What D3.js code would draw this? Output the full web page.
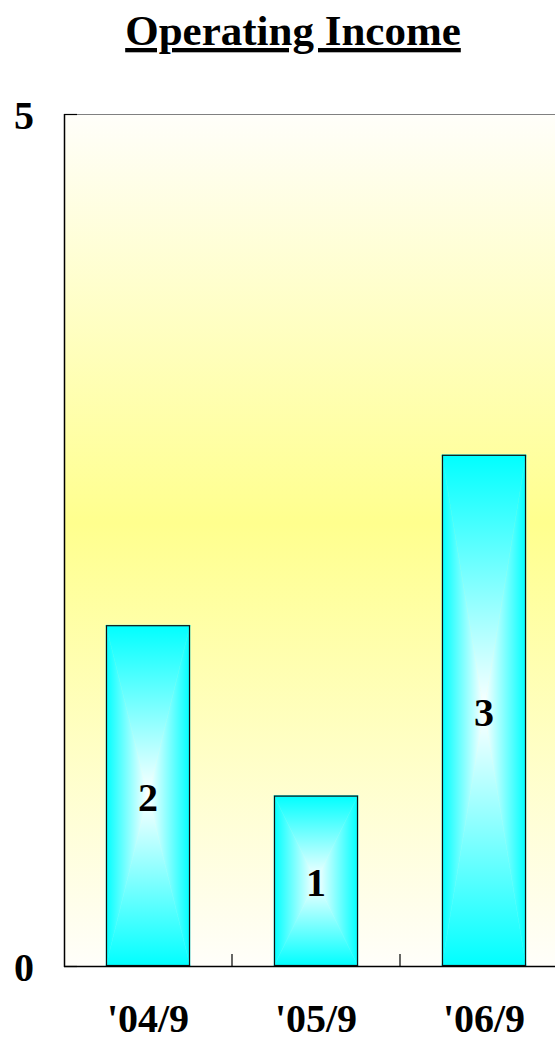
<!DOCTYPE html>
<html>
<head>
<meta charset="utf-8">
<script src="https://cdn.jsdelivr.net/npm/d3@7"></script>
<style>
  html, body { margin: 0; padding: 0; background: #fff; }
  svg { display: block; }
  text { font-family: "Liberation Serif", "Times New Roman", serif; font-weight: bold; fill: #000; }
</style>
</head>
<body>
<script>
// Operating income by period
const categories = ["'04/9", "'05/9", "'06/9"];
const values = [2, 1, 3];
const yTickValues = [0, 5];

const W = 555, H = 1041;
const plot = { left: 64, top: 114, right: 568, bottom: 966 };

const svg = d3.select("body").append("svg")
  .attr("width", W).attr("height", H);

const defs = svg.append("defs");

// plot-area wash: white at the edges, yellow through the middle
const bg = defs.append("linearGradient").attr("id", "bgGrad")
  .attr("x1", 0).attr("y1", 0).attr("x2", 0).attr("y2", 1);
bg.append("stop").attr("offset", 0).attr("stop-color", "#fffefa");
bg.append("stop").attr("offset", 0.48).attr("stop-color", "#ffff8e");
bg.append("stop").attr("offset", 1).attr("stop-color", "#fffefa");

const x = d3.scaleBand().domain(categories)
  .range([plot.left, plot.right]).paddingInner(0.5).paddingOuter(0.25);
const y = d3.scaleLinear().domain([0, 5]).range([plot.bottom, plot.top]);

// background
svg.append("rect")
  .attr("x", plot.left).attr("y", plot.top)
  .attr("width", plot.right - plot.left).attr("height", plot.bottom - plot.top)
  .attr("fill", "url(#bgGrad)");

// top frame line
svg.append("line")
  .attr("x1", plot.left).attr("x2", plot.right)
  .attr("y1", plot.top + 0.5).attr("y2", plot.top + 0.5)
  .attr("stroke", "#808080").attr("stroke-width", 1);

// cyan-to-white ramp along one axis of a bar
function ramp(id, x1, y1, x2, y2) {
  const g = defs.append("linearGradient").attr("id", id)
    .attr("gradientUnits", "userSpaceOnUse")
    .attr("x1", x1).attr("y1", y1).attr("x2", x2).attr("y2", y2);
  g.append("stop").attr("offset", 0).attr("stop-color", "#00ffff");
  g.append("stop").attr("offset", 0.5).attr("stop-color", "#ffffff");
  g.append("stop").attr("offset", 1).attr("stop-color", "#00ffff");
}

// bars built from four wedges so the shading radiates from the centre
const data = categories.map((c, i) => ({ cat: c, value: values[i], i }));
const bars = svg.append("g").selectAll("g").data(data).join("g");

bars.each(function (d) {
  const g = d3.select(this);
  const x0 = x(d.cat), x1 = x0 + x.bandwidth();
  const y0 = y(d.value), y1 = y(0);
  const cx = (x0 + x1) / 2, cy = (y0 + y1) / 2;
  const tri = (pts) => "M" + pts.map(p => p.join(",")).join("L") + "Z";
  const hGrad = "gh_" + d.i, vGrad = "gv_" + d.i;
  ramp(hGrad, x0, 0, x1, 0);
  ramp(vGrad, 0, y0, 0, y1);

  const wedges = [
    { pts: [[x0, y0], [cx, cy], [x0, y1]], grad: hGrad },
    { pts: [[x1, y0], [cx, cy], [x1, y1]], grad: hGrad },
    { pts: [[x0, y0], [x1, y0], [cx, cy]], grad: vGrad },
    { pts: [[x0, y1], [x1, y1], [cx, cy]], grad: vGrad }
  ];
  g.selectAll("path").data(wedges).join("path")
    .attr("d", w => tri(w.pts))
    .attr("fill", w => `url(#${w.grad})`)
    .attr("stroke", w => `url(#${w.grad})`)
    .attr("stroke-width", 0.5);

  g.append("rect")
    .attr("x", x0 + 0.5).attr("y", y0 + 0.5)
    .attr("width", x.bandwidth() - 1).attr("height", y1 - y0 - 1)
    .attr("fill", "none").attr("stroke", "#111").attr("stroke-width", 1.2);

  g.append("text")
    .attr("x", cx).attr("y", cy + 2)
    .attr("text-anchor", "middle").attr("dominant-baseline", "central")
    .style("font-size", "40px")
    .text(d.value);
});

// x axis with inward ticks between categories
const xAxisG = svg.append("g");
xAxisG.append("line")
  .attr("x1", plot.left).attr("x2", plot.right)
  .attr("y1", plot.bottom + 0.5).attr("y2", plot.bottom + 0.5)
  .attr("stroke", "#000").attr("stroke-width", 1.5);
const step = x.step();
const dividers = categories.slice(1).map(c => x(c) - (step - x.bandwidth()) / 2);
xAxisG.selectAll("line.tick").data(dividers).join("line")
  .attr("class", "tick")
  .attr("x1", d => d).attr("x2", d => d)
  .attr("y1", plot.bottom - 12).attr("y2", plot.bottom)
  .attr("stroke", "#000").attr("stroke-width", 1.2);
xAxisG.selectAll("text").data(categories).join("text")
  .attr("x", d => x(d) + x.bandwidth() / 2)
  .attr("y", 1032)
  .attr("text-anchor", "middle")
  .style("font-size", "40px")
  .text(d => d);

// y axis
const yAxisG = svg.append("g");
yAxisG.append("line")
  .attr("x1", plot.left + 0.5).attr("x2", plot.left + 0.5)
  .attr("y1", plot.top).attr("y2", plot.bottom + 1)
  .attr("stroke", "#000").attr("stroke-width", 1.5);
yAxisG.selectAll("line.tick").data(yTickValues).join("line")
  .attr("class", "tick")
  .attr("x1", plot.left).attr("x2", plot.left + 13)
  .attr("y1", d => y(d) + 0.5).attr("y2", d => y(d) + 0.5)
  .attr("stroke", "#000").attr("stroke-width", 1.2);
yAxisG.selectAll("text").data(yTickValues).join("text")
  .attr("x", 34)
  .attr("y", d => y(d) + 1)
  .attr("text-anchor", "end").attr("dominant-baseline", "central")
  .style("font-size", "40px")
  .text(d => d);

// title
svg.append("text")
  .attr("x", 293).attr("y", 45)
  .attr("text-anchor", "middle")
  .style("font-size", "43px")
  .style("text-decoration", "underline")
  .text("Operating Income");
</script>
</body>
</html>
